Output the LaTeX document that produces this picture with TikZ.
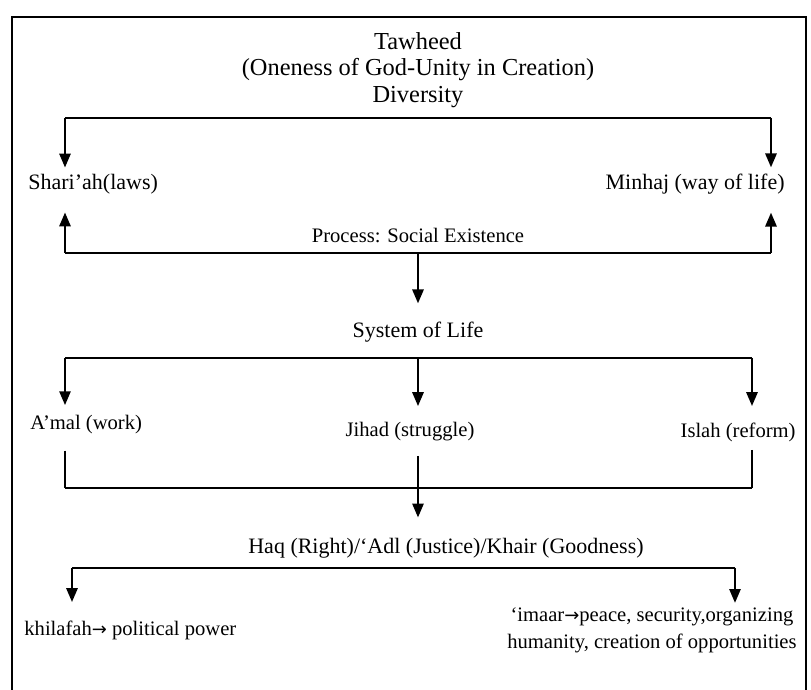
\documentclass[tikz,border=0pt]{standalone}
\usepackage{fontspec}
\setmainfont{Liberation Serif}
\newfontfamily\arrowfont{DejaVu Sans}
\usetikzlibrary{arrows.meta,calc}
\newcommand{\rarr}{{\arrowfont\fontsize{9}{10}\selectfont →}}
\begin{document}
\begin{tikzpicture}[x=0.5pt,y=-0.5pt,
  lbl/.style={inner sep=2pt,font=\fontsize{11}{13.5}\selectfont},
  big/.style={lbl,font=\fontsize{12.2}{14}\selectfont},
  small/.style={lbl,font=\fontsize{10.3}{13.5}\selectfont},
  ln/.style={line width=1.35pt},
  arr/.style={line width=1.35pt,-{Triangle[width=5.5pt,length=7pt]}},
  frame/.style={line width=1pt}]
\useasboundingbox (0,0) rectangle (811,690);
\fill[white] (0,0) rectangle (811,690);
% frame (open at the bottom)
\draw[frame] (12,690) -- (12,17) -- (806,17) -- (806,690);
% texts
\node[big] (tawheed) at (418,41) {Tawheed};
\node[big] (oneness) at (418,70) {(Oneness of God-Unity in Creation)};
\node[big] (diversity) at (418,97) {Diversity};
\node[lbl,anchor=west] (shariah) at (24,184) {Shari’ah(laws)};
\node[lbl,anchor=east] (minhaj) at (789,184) {Minhaj (way of life)};
\node[small] (process) at (418,236) {Process: Social Existence};
\node[lbl] (system) at (418,332) {System of Life};
\node[small,anchor=west] (amal) at (26,425) {A’mal (work)};
\node[small] (jihad) at (410,432) {Jihad (struggle)};
\node[small,anchor=east] (islah) at (800,432) {Islah (reform)};
\node[lbl] (haq) at (446,548) {Haq (Right)/‘Adl (Justice)/Khair (Goodness)};
\node[small,anchor=west] (khilafah) at (20,630) {khilafah\rarr\ political power};
\node[small,anchor=east,align=center] (imaar) at (801,630) {‘imaar\rarr peace, security,organizing\\humanity, creation of opportunities};
% junction points
\coordinate (a1) at (65,118);
\coordinate (a2) at (771,118);
\coordinate (b1) at (65,253);
\coordinate (b2) at (771,253);
\coordinate (bc) at (418,253);
\coordinate (d1) at (65,358);
\coordinate (d2) at (418,358);
\coordinate (d3) at (752,358);
\coordinate (e1) at (65,488);
\coordinate (e2) at (418,488);
\coordinate (e3) at (752,488);
\coordinate (f1) at (72,568);
\coordinate (f2) at (735,568);
% Tawheed -> Shari'ah / Minhaj
\draw[ln] (a1) -- (a2);
\draw[arr,shorten >=1pt] (a1) -- (a1 |- shariah.north);
\draw[arr,shorten >=1pt] (a2) -- (a2 |- minhaj.north);
% Process bracket
\draw[ln] (b1) -- (b2);
\draw[arr,shorten >=7pt] (b1) -- (b1 |- shariah.south);
\draw[arr,shorten >=7pt] (b2) -- (b2 |- minhaj.south);
\draw[arr,shorten >=7pt] (bc) -- (system.north);
% System of Life -> three
\draw[ln] (d1) -- (d3);
\draw[arr,shorten >=3pt] (d1) -- (d1 |- amal.north);
\draw[arr,shorten >=6pt] (d2) -- (d2 |- jihad.north);
\draw[arr,shorten >=6pt] (d3) -- (d3 |- islah.north);
% three -> Haq
\draw[ln,shorten <=6pt] (amal.south -| e1) -- (e1);
\draw[ln,shorten <=5pt] (jihad.south -| e2) -- (e2);
\draw[ln,shorten <=2pt] (islah.south -| e3) -- (e3);
\draw[ln] (e1) -- (e3);
\draw[arr,shorten >=8pt] (e2) -- (e2 |- haq.north);
% Haq -> khilafah / imaar
\draw[ln] (f1) -- (f2);
\draw[arr,shorten >=7pt] (f1) -- (f1 |- khilafah.north);
\draw[arr,shorten >=0pt] (f2) -- (f2 |- imaar.north);
\end{tikzpicture}
\end{document}
